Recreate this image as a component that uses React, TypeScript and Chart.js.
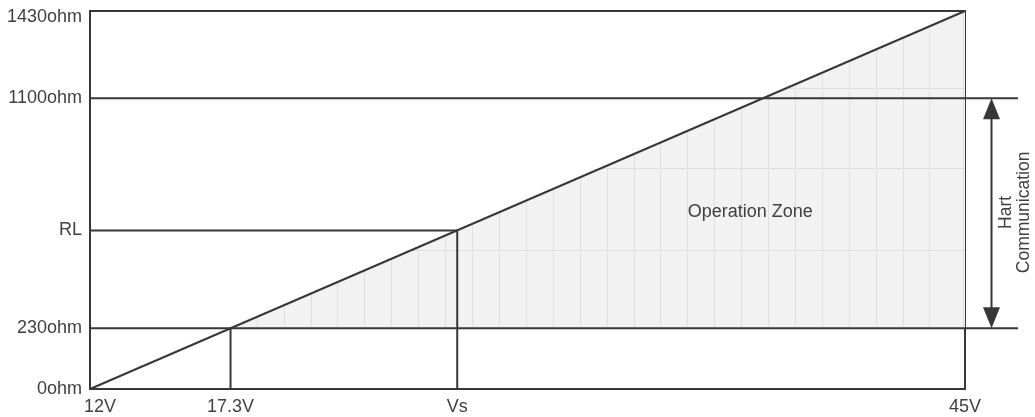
import React, { useEffect, useRef } from "react";
import { Chart, registerables } from "chart.js";

Chart.register(...registerables);

const FONT = '"Liberation Sans", Arial, Helvetica, sans-serif';
const INK = "#353836";
const TEXT = "#404040";

// Axis ranges (volts / ohms)
const voltRange = [12, 45];
const ohmRange = [0, 1430];

// Key values
const hartMinVolt = 17.3;
const hartMinOhm = 230;
const hartMaxOhm = 1100;
const supplyVs = 25.85;
const loadRL = 600;
const hartLineEndVolt = 47;
const hartArrowVolt = 46;

// Tick labels
const xTickValues = [12, 17.3, supplyVs, 45];
const xTickLabels = ["    12V", "17.3V", "Vs", "45V"];
const yTickValues = [0, 230, loadRL, 1100, 1430];
const yTickLabels: (string | string[])[] = ["0ohm", "230ohm", "RL", "1100ohm", ["", "1430ohm"]];

// Light grid inside the operation zone
const zoneGridVolts = [
  18.29, 19.3, 20.32, 21.33, 22.35, 23.36, 24.38, 25.39, 26.41, 27.42, 28.44, 29.45, 30.47,
  31.48, 32.5, 33.51, 34.53, 35.54, 36.56, 37.57, 38.59, 39.6, 40.62, 41.63, 42.65, 43.66, 44.93,
];
const zoneGridOhms = [526, 836, 1139];

// Annotations
const zoneLabel = "Operation Zone";
const zoneLabelVolt = 36.9;
const zoneLabelOhm = 671;
const hartLabel = ["Hart", "Communication"];
const hartLabelVolt = 46.88;
const hartLabelOhm = 668;

type P = { x: number; y: number };
const seg = (x1: number, y1: number, x2: number, y2: number): P[] => [
  { x: x1, y: y1 },
  { x: x2, y: y2 },
];

const lineDs = (data: P[]) => ({
  data,
  showLine: true,
  borderColor: INK,
  borderWidth: 2,
  pointRadius: 0,
  pointHoverRadius: 0,
  fill: false,
  tension: 0,
  clip: false as const,
});

const zonePlugin = {
  id: "zoneGrid",
  afterDatasetDraw(chart: any, args: any) {
    if (args.index !== 0) return;
    const { ctx, scales } = chart;
    const x = scales.x;
    const y = scales.y;
    const pts = chart.getDatasetMeta(0).data;
    const a = pts[0];
    const b = pts[1];
    ctx.save();
    ctx.beginPath();
    ctx.moveTo(a.x, a.y);
    ctx.lineTo(b.x, b.y);
    ctx.lineTo(b.x, a.y);
    ctx.closePath();
    ctx.clip();
    ctx.strokeStyle = "#e0e0e0";
    ctx.lineWidth = 1;
    ctx.beginPath();
    for (const v of zoneGridVolts) {
      const px = Math.round(x.getPixelForValue(v)) + 0.5;
      ctx.moveTo(px, a.y);
      ctx.lineTo(px, b.y);
    }
    for (const r of zoneGridOhms) {
      const py = Math.round(y.getPixelForValue(r)) + 0.5;
      ctx.moveTo(a.x, py);
      ctx.lineTo(b.x, py);
    }
    ctx.stroke();
    ctx.restore();
  },
  afterDatasetsDraw(chart: any) {
    const { ctx, scales } = chart;
    const x = scales.x;
    const y = scales.y;
    ctx.save();
    ctx.fillStyle = TEXT;
    ctx.font = `18px ${FONT}`;
    ctx.textAlign = "center";
    ctx.textBaseline = "middle";
    ctx.fillText(zoneLabel, x.getPixelForValue(zoneLabelVolt), y.getPixelForValue(zoneLabelOhm));

    ctx.save();
    ctx.font = `17.5px ${FONT}`;
    ctx.translate(x.getPixelForValue(hartLabelVolt), y.getPixelForValue(hartLabelOhm));
    ctx.rotate(-Math.PI / 2);
    const lh = 18;
    hartLabel.forEach((t, i) => {
      ctx.fillText(t, 0, (i - (hartLabel.length - 1) / 2) * lh);
    });
    ctx.restore();

    // arrow heads
    const ax = x.getPixelForValue(hartArrowVolt);
    const top = y.getPixelForValue(hartMaxOhm);
    const bot = y.getPixelForValue(hartMinOhm);
    const hw = 8.5;
    const hh = 21;
    ctx.fillStyle = INK;
    ctx.beginPath();
    ctx.moveTo(ax, top);
    ctx.lineTo(ax - hw, top + hh);
    ctx.lineTo(ax + hw, top + hh);
    ctx.closePath();
    ctx.fill();
    ctx.beginPath();
    ctx.moveTo(ax, bot);
    ctx.lineTo(ax - hw, bot - hh);
    ctx.lineTo(ax + hw, bot - hh);
    ctx.closePath();
    ctx.fill();
    ctx.restore();
  },
};

export default function App() {
  const ref = useRef<HTMLCanvasElement>(null);

  useEffect(() => {
    const datasets: any[] = [
      {
        data: seg(hartMinVolt, hartMinOhm, voltRange[1], ohmRange[1]),
        showLine: true,
        borderColor: "rgba(0,0,0,0)",
        backgroundColor: "#f2f2f2",
        pointRadius: 0,
        fill: { value: hartMinOhm },
        order: 10,
      },
      lineDs(seg(voltRange[0], ohmRange[0], voltRange[1], ohmRange[1])),
      lineDs(seg(voltRange[0], hartMinOhm, hartLineEndVolt, hartMinOhm)),
      lineDs(seg(voltRange[0], hartMaxOhm, hartLineEndVolt, hartMaxOhm)),
      lineDs(seg(voltRange[0], loadRL, supplyVs, loadRL)),
      lineDs(seg(hartMinVolt, ohmRange[0], hartMinVolt, hartMinOhm)),
      lineDs(seg(supplyVs, ohmRange[0], supplyVs, loadRL)),
      lineDs(seg(hartArrowVolt, hartMaxOhm - 40, hartArrowVolt, hartMinOhm + 40)),
    ];

    const tickFont = { family: FONT, size: 18 };

    const chart = new Chart(ref.current as HTMLCanvasElement, {
      type: "scatter",
      data: { datasets },
      options: {
        animation: false,
        responsive: false,
        events: [],
        layout: { padding: { left: 0, right: 70, top: 11, bottom: 0 } },
        plugins: {
          legend: { display: false },
          tooltip: { enabled: false },
        },
        scales: {
          x: {
            type: "linear",
            position: "bottom",
            min: voltRange[0],
            max: voltRange[1],
            afterBuildTicks: (axis: any) => {
              axis.ticks = xTickValues.map((v) => ({ value: v }));
            },
            afterFit: (s: any) => {
              s.height = 28;
              s.paddingLeft = 0;
              s.paddingRight = 0;
            },
            ticks: {
              autoSkip: false,
              maxRotation: 0,
              minRotation: 0,
              padding: 7,
              color: TEXT,
              font: { ...tickFont, lineHeight: 1.2 },
              callback: (_v: any, i: number) => xTickLabels[i],
            },
            grid: { display: false, drawTicks: false },
            border: { display: true, color: INK, width: 2 },
          },
          y: {
            type: "linear",
            position: "left",
            min: ohmRange[0],
            max: ohmRange[1],
            afterBuildTicks: (axis: any) => {
              axis.ticks = yTickValues.map((v) => ({ value: v }));
            },
            afterFit: (s: any) => {
              s.width = 90;
              s.paddingTop = 0;
              s.paddingBottom = 0;
            },
            ticks: {
              autoSkip: false,
              padding: 8,
              color: TEXT,
              font: { ...tickFont, lineHeight: 0.66 },
              callback: (_v: any, i: number) => yTickLabels[i],
            },
            grid: { display: false, drawTicks: false },
            border: { display: true, color: INK, width: 2 },
          },
          xTop: {
            type: "linear",
            position: "top",
            min: voltRange[0],
            max: voltRange[1],
            afterFit: (s: any) => {
              s.height = 0;
              s.paddingLeft = 0;
              s.paddingRight = 0;
            },
            ticks: { display: false },
            grid: { display: false, drawTicks: false },
            border: { display: true, color: INK, width: 2 },
          },
          yRight: {
            type: "linear",
            position: "right",
            min: ohmRange[0],
            max: ohmRange[1],
            afterFit: (s: any) => {
              s.width = 0;
              s.paddingTop = 0;
              s.paddingBottom = 0;
            },
            ticks: { display: false },
            grid: { display: false, drawTicks: false },
            border: { display: true, color: INK, width: 2 },
          },
        },
      } as any,
      plugins: [zonePlugin],
    });
    return () => chart.destroy();
  }, []);

  return (
    <div style={{ position: "absolute", left: 0, top: 0, width: 1035, height: 417, background: "#fff" }}>
      <canvas ref={ref} width={1035} height={417} style={{ display: "block", width: 1035, height: 417 }} />
    </div>
  );
}
